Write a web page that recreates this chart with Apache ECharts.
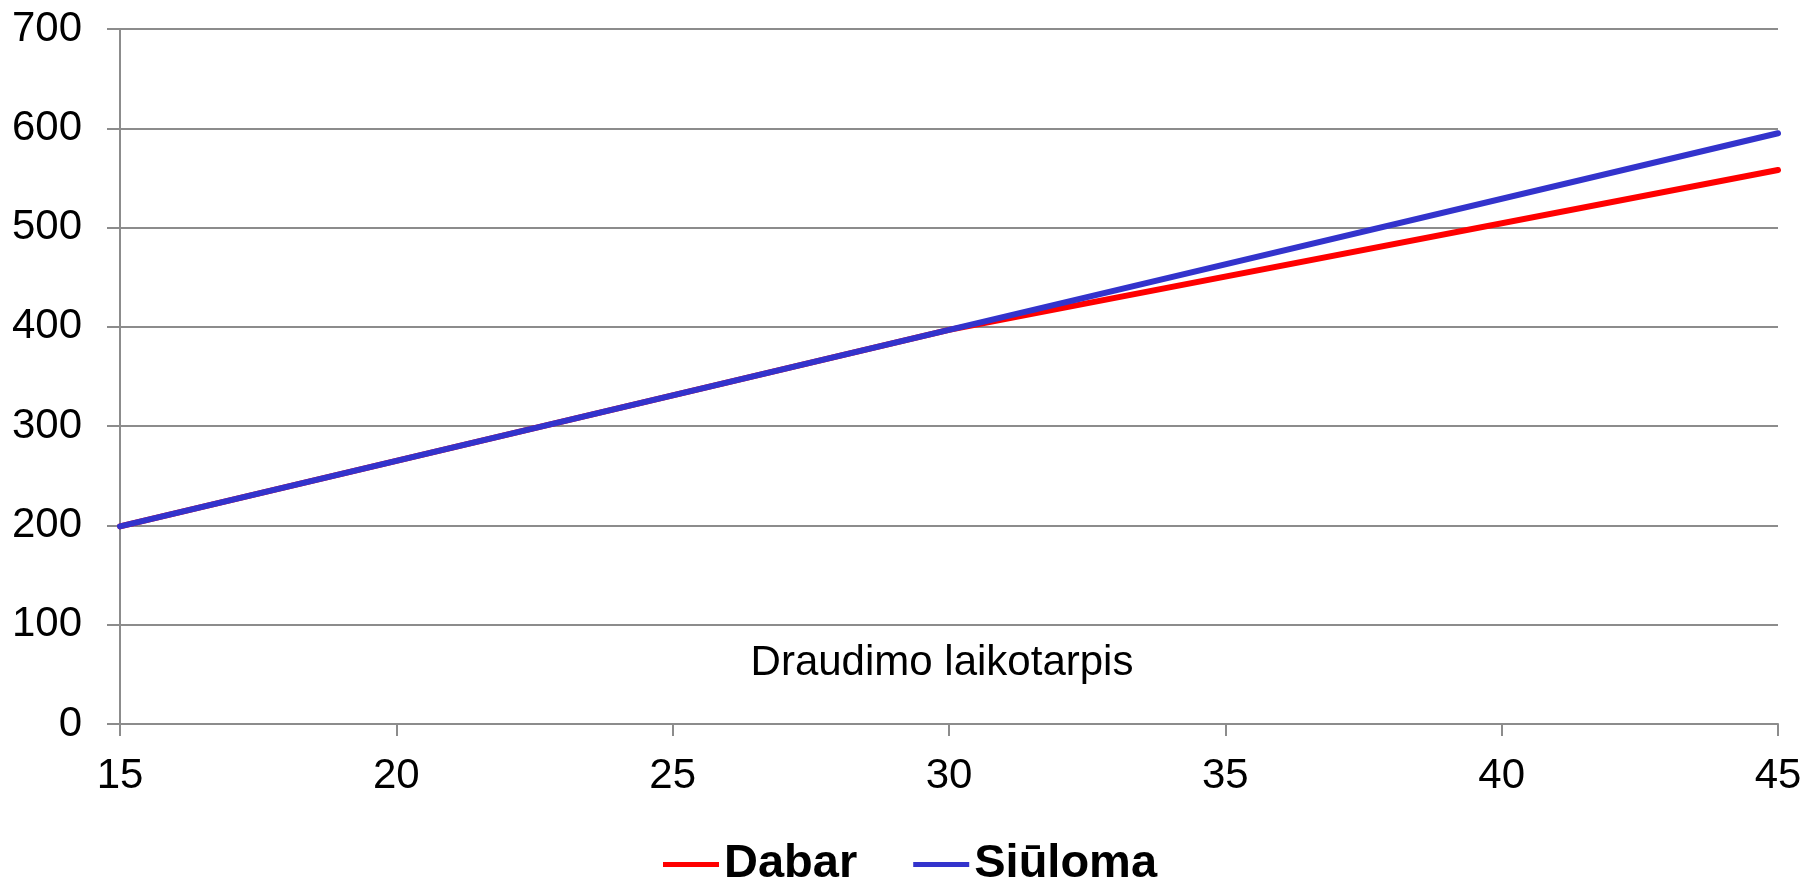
<!DOCTYPE html>
<html>
<head>
<meta charset="utf-8">
<script src="https://cdn.jsdelivr.net/npm/echarts@6/dist/echarts.min.js"></script>
<style>
  html, body { margin: 0; padding: 0; background: #fff; }
  #lineChart { width: 1808px; height: 883px; }
</style>
</head>
<body>
<div id="lineChart"></div>
<script>
// data
var periods = [15, 30, 45];
var dabar = [199, 397, 558];
var siuloma = [199, 397, 595];
var seriesNames = ['Dabar', 'Siūloma'];
var xTitle = 'Draudimo laikotarpis';

function pairs(xs, ys) {
    return xs.map(function (x, i) { return [x, ys[i]]; });
}

var myChart = echarts.init(document.getElementById('lineChart'));

var font = 'Liberation Sans, Arial, sans-serif';
var gray = '#8c8c8c';

var option = {
    animation: false,
    textStyle: { fontFamily: font },
    grid: {
        left: 120,
        right: 30,
        top: 29,
        bottom: 159
    },
    legend: {
        left: 658,
        top: 836,
        icon: 'rect',
        itemWidth: 56,
        itemHeight: 5,
        itemGap: 56,
        textStyle: {
            fontFamily: font,
            fontSize: 47,
            fontWeight: 'bold',
            color: '#000'
        },
        data: seriesNames
    },
    xAxis: {
        type: 'value',
        min: 15,
        max: 45,
        interval: 5,
        name: xTitle,
        nameLocation: 'middle',
        nameGap: -82,
        nameTextStyle: { fontFamily: font, fontSize: 42, color: '#000', padding: [0, 14, 0, 0] },
        axisLine: { show: true, lineStyle: { color: gray, width: 2 } },
        axisTick: { show: true, length: 12, lineStyle: { color: gray, width: 2 } },
        axisLabel: { fontFamily: font, fontSize: 42, color: '#000', margin: 31 },
        splitLine: { show: false }
    },
    yAxis: {
        type: 'value',
        min: 0,
        max: 700,
        interval: 100,
        axisLine: { show: true, lineStyle: { color: gray, width: 2 } },
        axisTick: { show: true, length: 13, lineStyle: { color: gray, width: 2 } },
        axisLabel: { fontFamily: font, fontSize: 42, color: '#000', margin: 38 },
        splitLine: { show: true, lineStyle: { color: gray, width: 2 } }
    },
    series: [
        {
            name: seriesNames[0],
            type: 'line',
            data: pairs(periods, dabar),
            symbol: 'none',
            itemStyle: { color: '#ff0000' },
            lineStyle: { color: '#ff0000', width: 6, cap: 'round' }
        },
        {
            name: seriesNames[1],
            type: 'line',
            data: pairs(periods, siuloma),
            symbol: 'none',
            itemStyle: { color: '#3333cc' },
            lineStyle: { color: '#3333cc', width: 6, cap: 'round' }
        }
    ]
};

myChart.setOption(option);

window.addEventListener('resize', function() {
    myChart.resize();
});
</script>
</body>
</html>
